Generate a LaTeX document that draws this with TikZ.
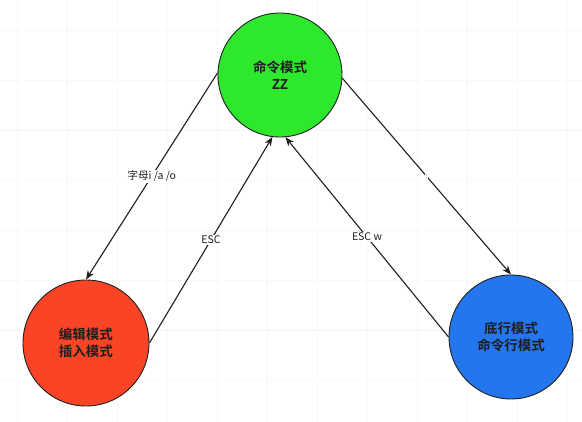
\documentclass[tikz,border=0pt]{standalone}
\usepackage{fontspec}
\newfontfamily\cjkb{Noto Sans CJK SC Bold}
\newfontfamily\cjk{Noto Sans CJK SC}
\usetikzlibrary{arrows.meta}
\definecolor{gfill}{RGB}{46,232,46}
\definecolor{rfill}{RGB}{250,68,38}
\definecolor{bfill}{RGB}{36,118,238}
\definecolor{ink}{RGB}{30,30,30}
\tikzset{
  state/.style={circle, draw=ink, line width=0.9pt, minimum size=#1, inner sep=0pt,
    font=\cjkb\fontsize{13.5}{17}\selectfont, text=ink, align=center},
  conn/.style={draw=ink, line width=1.1pt, -{Stealth[length=9pt,width=7pt]}},
  lbl/.style={fill=white, inner sep=1.2pt, font=\cjk\fontsize{10.5}{12}\selectfont, text=ink}
}
\begin{document}
\begin{tikzpicture}[x=1pt,y=-1pt]
\useasboundingbox (0,0) rectangle (582,422);
\fill[white] (0,0) rectangle (582,422);
% faint grid
\foreach \x in {17,67,...,567} \draw[gray!5, line width=0.5pt] (\x,0) -- (\x,422);
\foreach \y in {30,80,...,422} \draw[gray!5, line width=0.5pt] (0,\y) -- (582,\y);
\foreach \x in {67,267,467} \draw[gray!9, line width=0.5pt] (\x,0) -- (\x,422);
\foreach \y in {130,330} \draw[gray!9, line width=0.5pt] (0,\y) -- (582,\y);

\node[state=124pt, fill=gfill] (g) at (280,75) {命令模式\\ZZ};
\node[state=126pt, fill=rfill] (r) at (86,343) {编辑模式\\插入模式};
\node[state=124pt, fill=bfill] (b) at (511,337) {底行模式\\命令行模式};

\draw[conn] (g.178) -- node[lbl]{字母i /a /o} (r.north);
\draw[conn] (r.east) -- node[lbl]{ESC} (g.-97);
\draw[conn] (b.west) -- node[lbl]{ESC w} (g.-85);
\draw[conn] (g.-3) -- node[lbl, inner sep=0.6pt, font=\cjk\fontsize{7}{8}\selectfont]{:} (b.north);
\end{tikzpicture}
\end{document}
